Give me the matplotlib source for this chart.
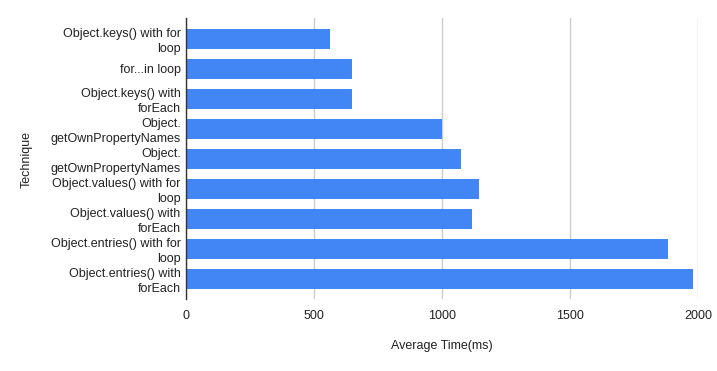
import matplotlib
matplotlib.use("Agg")
import matplotlib.pyplot as plt

plt.rcParams['font.family'] = ['Liberation Sans', 'DejaVu Sans']

techniques = [
    "Object.keys() with for\nloop",
    "for...in loop",
    "Object.keys() with\nforEach",
    "Object.\ngetOwnPropertyNames",
    "Object.\ngetOwnPropertyNames",
    "Object.values() with for\nloop",
    "Object.values() with\nforEach",
    "Object.entries() with for\nloop",
    "Object.entries() with\nforEach",
]
avg_time = [561, 647, 647, 1000, 1073, 1143, 1116, 1882, 1978]
x_ticks = [0, 500, 1000, 1500, 2000]

text_col = '#222222'

fig = plt.figure(figsize=(7.17, 3.71), dpi=100)
ax = fig.add_axes([186.3 / 717, 1 - 299 / 371, 512 / 717, (299 - 18.3) / 371])

pos = list(range(len(techniques)))
ax.barh(pos, avg_time, height=0.667, color='#4285F4', zorder=3)

ax.set_xlim(0, 2000)
ax.set_ylim(8.68, -0.68)
ax.set_xticks(x_ticks)
ax.set_xticklabels([str(t) for t in x_ticks])
ax.set_yticks(pos)
ax.set_yticklabels(techniques, linespacing=1.35)
ax.tick_params(axis='both', length=0, labelsize=9, colors=text_col)
ax.tick_params(axis='x', pad=8)
ax.tick_params(axis='y', pad=4)
ax.xaxis.grid(True, color='#cccccc', linewidth=1, zorder=0)
ax.set_axisbelow(True)

for s in ['top', 'right', 'bottom']:
    ax.spines[s].set_visible(False)
ax.spines['left'].set_color('#333333')
ax.spines['left'].set_linewidth(1)
ax.spines['left'].set_zorder(4)

ax.set_xlabel('Average Time(ms)', fontsize=9, color=text_col, labelpad=13)
fig.text(27 / 717, 1 - 159 / 371, 'Technique', rotation=90, fontsize=9,
         color=text_col, ha='center', va='center')

fig.savefig('out.png', dpi=100)
